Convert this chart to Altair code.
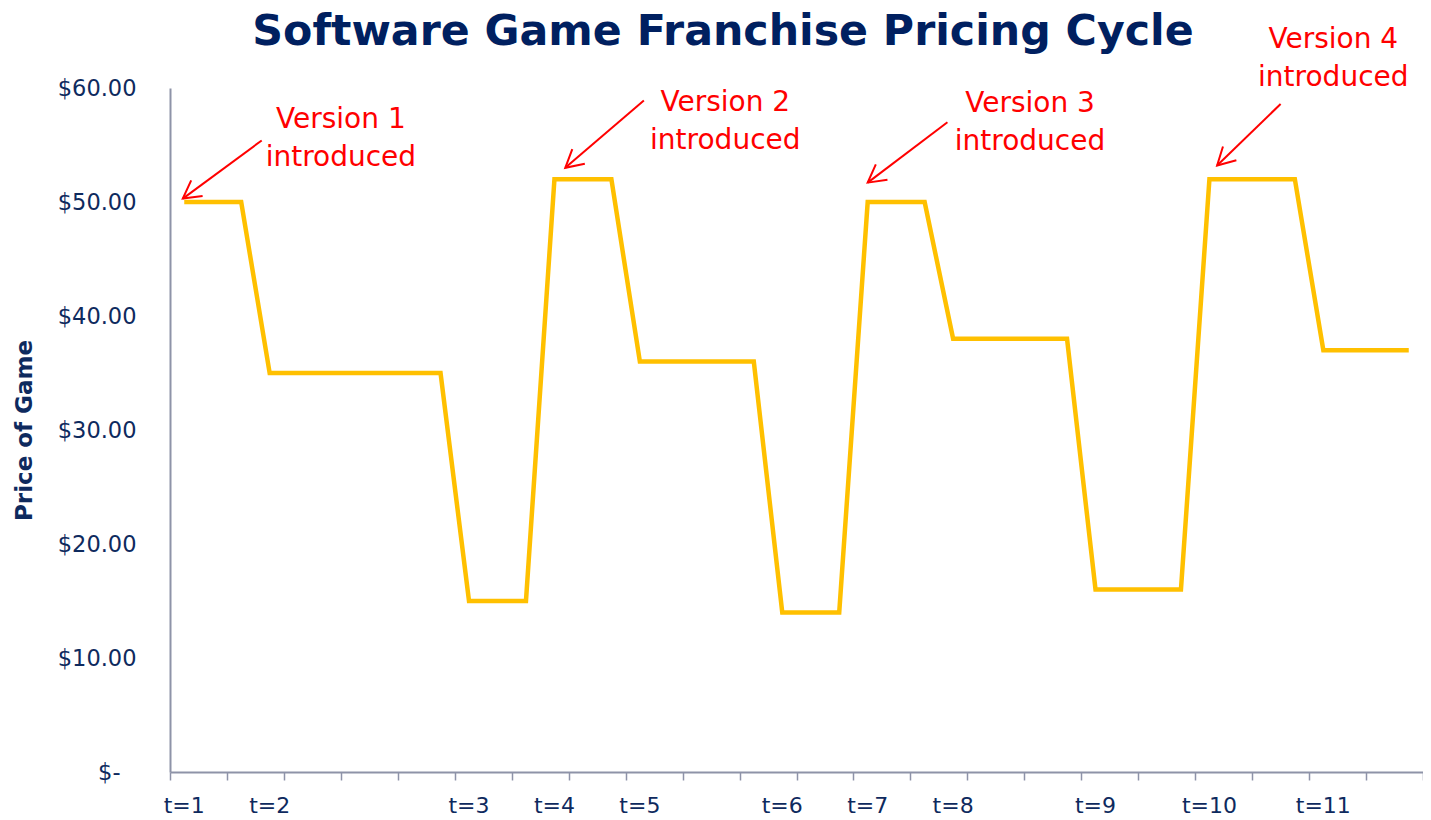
import math
import altair as alt
import pandas as pd

# ---------------- data ----------------
title_text = ["Software Game Franchise Pricing Cycle"]

periods = list(range(1, 45))
prices = [50, 50, 50,
          35, 35, 35, 35, 35, 35, 35,
          15, 15, 15,
          52, 52, 52,
          36, 36, 36, 36, 36,
          14, 14, 14,
          50, 50, 50,
          38, 38, 38, 38, 38,
          16, 16, 16, 16,
          52, 52, 52, 52,
          37, 37, 37, 37]

tick_periods = [1, 4, 11, 14, 17, 22, 25, 28, 33, 37, 41]
tick_labels = ["t=1", "t=2", "t=3", "t=4", "t=5", "t=6", "t=7", "t=8", "t=9", "t=10", "t=11"]

note_texts = ["Version 1\nintroduced", "Version 2\nintroduced",
              "Version 3\nintroduced", "Version 4\nintroduced"]
note_x = [6.0, 19.5, 30.2, 40.85]
note_y = [57.2, 58.7, 58.6, 64.2]

arrow_x0 = [3.22, 16.64, 27.30, 39.00]
arrow_y0 = [55.4, 58.9, 57.0, 58.6]
arrow_x1 = [0.45, 13.88, 24.50, 36.77]
arrow_y1 = [50.3, 53.0, 51.7, 53.2]

# ---------------- layout ----------------
W, H = 1253, 684
XMAX, YMAX = 44, 60
NAVY = "#0E2A5E"
GOLD = "#FFC000"
RED = "#FF0000"
AXIS_GREY = "#8E93A8"

line_df = pd.DataFrame({"pos": [p - 0.5 for p in periods], "price": prices})
lab_df = pd.DataFrame({"pos": [p - 0.5 for p in tick_periods], "label": tick_labels})
note_df = pd.DataFrame({"x": note_x, "y": note_y, "text": note_texts})
title_df = pd.DataFrame({"text": title_text})

sx, sy = W / XMAX, H / YMAX
angles = []
for a, b, c, d in zip(arrow_x0, arrow_y0, arrow_x1, arrow_y1):
    ang = math.degrees(math.atan2(-(d - b) * sy, (c - a) * sx)) % 360
    angles.append(ang)
arrow_df = pd.DataFrame({"x0": arrow_x0, "y0": arrow_y0, "x1": arrow_x1,
                         "y1": arrow_y1, "angle": angles})

xscale = alt.Scale(domain=[0, XMAX], nice=False, zero=False)
yscale = alt.Scale(domain=[0, YMAX], nice=False)

x_axis = alt.Axis(values=list(range(0, XMAX + 1)), labels=False, title=None,
                  grid=False, tickSize=8, tickColor=AXIS_GREY, tickWidth=1.5,
                  domainColor=AXIS_GREY, domainWidth=2)
y_axis = alt.Axis(values=[0, 10, 20, 30, 40, 50, 60], grid=False, ticks=False,
                  domainColor=AXIS_GREY, domainWidth=2,
                  labelExpr="datum.value == 0 ? '$-' : '$' + format(datum.value, '.2f')",
                  labelFont="DejaVu Sans", labelFontSize=22.5, labelColor=NAVY,
                  labelPadding={"condition": {"test": "datum.value === 0", "value": 50},
                                "value": 34},
                  labelAlign="right", labelBaseline="middle",
                  title="Price of Game", titleFont="DejaVu Sans", titleFontSize=23,
                  titleFontWeight="bold", titleColor=NAVY, titleAngle=270,
                  titleX=-146, titleY=H / 2, titleAlign="center", titleBaseline="middle")

line = alt.Chart(line_df).mark_line(color=GOLD, strokeWidth=4.5, strokeJoin="miter").encode(
    x=alt.X("pos:Q", scale=xscale, axis=x_axis),
    y=alt.Y("price:Q", scale=yscale, axis=y_axis),
)

labels = alt.Chart(lab_df).mark_text(font="DejaVu Sans", fontSize=22, color=NAVY,
                                     baseline="middle", align="center").encode(
    x=alt.X("pos:Q", scale=xscale),
    y=alt.value(H + 34),
    text="label:N",
)

notes = alt.Chart(note_df).mark_text(font="DejaVu Sans", fontSize=28, color=RED,
                                     lineBreak="\n", lineHeight=38,
                                     baseline="middle", align="center").encode(
    x=alt.X("x:Q", scale=xscale),
    y=alt.Y("y:Q", scale=yscale),
    text="text:N",
)

arrow_lines = alt.Chart(arrow_df).mark_rule(color=RED, strokeWidth=2).encode(
    x=alt.X("x0:Q", scale=xscale),
    y=alt.Y("y0:Q", scale=yscale),
    x2="x1:Q",
    y2="y1:Q",
)

arrow_heads = alt.Chart(arrow_df).mark_point(
    shape="M -1 -0.55 L 0 0 L -1 0.55", filled=False, color=RED,
    strokeWidth=2, size=1225, opacity=1).encode(
    x=alt.X("x1:Q", scale=xscale),
    y=alt.Y("y1:Q", scale=yscale),
    angle=alt.Angle("angle:Q", scale=None),
)

title = alt.Chart(title_df).mark_text(font="DejaVu Sans", fontSize=42.7, fontWeight="bold",
                                      color="#002060", align="center",
                                      baseline="alphabetic").encode(
    x=alt.value(553),
    y=alt.value(-43),
    text="text:N",
)

chart = alt.layer(line, labels, arrow_lines, arrow_heads, notes, title).properties(
    width=W, height=H,
    autosize=alt.AutoSizeParams(type="none"),
    padding={"left": 162, "top": 80, "right": 0, "bottom": 46},
).configure_view(stroke=None)

chart.save("out.html", embed_options={"renderer": "svg", "actions": False})
